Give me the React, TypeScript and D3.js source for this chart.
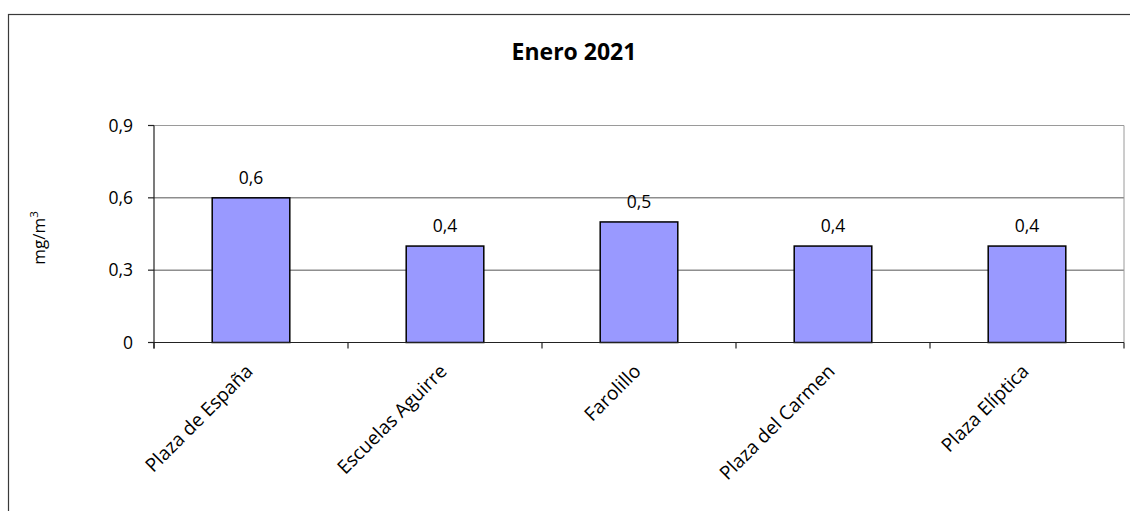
import * as d3 from "d3";

const stations = [
  "Plaza de España",
  "Escuelas Aguirre",
  "Farolillo",
  "Plaza del Carmen",
  "Plaza Elíptica",
];
const values = [0.6, 0.4, 0.5, 0.4, 0.4];
const yTicks = [0, 0.3, 0.6, 0.9];
const title = "Enero 2021";

const width = 1130;
const height = 511;
const margin = { top: 125.5, right: 6, bottom: 168.5, left: 154 };
const font = "'Open Sans', sans-serif";

const fmt = (v: number) => String(v).replace(".", ",");

export default function App() {
  const x = d3
    .scaleBand<string>()
    .domain(stations)
    .range([margin.left, width - margin.right])
    .paddingInner(0.6)
    .paddingOuter(0.3);

  const y = d3
    .scaleLinear()
    .domain([0, 0.9])
    .range([height - margin.bottom, margin.top]);

  const x0 = margin.left;
  const x1 = width - margin.right;
  const y0 = y(0);
  // tick marks sit between the categories
  const boundaries = d3.range(stations.length + 1).map((i) => x0 + i * ((x1 - x0) / stations.length));

  return (
    <svg
      width={width}
      height={height}
      style={{ position: "absolute", left: 0, top: 0, background: "#fff" }}
      fontFamily={font}
    >
      {/* outer chart frame (runs past the window on right/bottom) */}
      <rect x={8.5} y={14.5} width={1200} height={600} fill="none" stroke="#3a3a3a" strokeWidth={1.2} />

      <text x={574} y={60} textAnchor="middle" fontSize={23} fontWeight="bold" fill="#000">
        {title}
      </text>

      {/* grid */}
      {yTicks.map((t) => (
        <line
          key={t}
          x1={x0}
          x2={x1}
          y1={y(t)}
          y2={y(t)}
          stroke={t === 0.9 ? "#9a9a9a" : "#555"}
          strokeWidth={1}
        />
      ))}
      <line x1={x1} x2={x1} y1={y(0.9)} y2={y0} stroke="#9a9a9a" strokeWidth={1} />

      {/* bars */}
      {stations.map((s, i) => (
        <g key={s}>
          <rect
            x={x(s)!}
            y={y(values[i])}
            width={x.bandwidth()}
            height={y0 - y(values[i])}
            fill="#9999ff"
            stroke="#000"
            strokeWidth={1.5}
          />
          <text
            x={x(s)! + x.bandwidth() / 2}
            y={y(values[i]) - 14}
            textAnchor="middle"
            fontSize={17.5}
            fill="#000"
          >
            {fmt(values[i])}
          </text>
        </g>
      ))}

      {/* y axis */}
      <line x1={x0} x2={x0} y1={y(0.9)} y2={y0 + 6} stroke="#222" strokeWidth={1.2} />
      {yTicks.map((t) => (
        <g key={t}>
          <line x1={x0 - 6} x2={x0} y1={y(t)} y2={y(t)} stroke="#222" strokeWidth={1.2} />
          <text x={x0 - 21} y={y(t)} dy="0.36em" textAnchor="end" fontSize={17.5} fill="#000">
            {fmt(t)}
          </text>
        </g>
      ))}
      <text
        transform={`translate(45,${(y(0.9) + y0) / 2 + 4}) rotate(-90)`}
        textAnchor="middle"
        fontSize={17}
        fill="#000"
      >
        mg/m<tspan dy={-7} fontSize={11.5}>3</tspan>
      </text>

      {/* x axis */}
      <line x1={x0} x2={x1} y1={y0} y2={y0} stroke="#222" strokeWidth={1.2} />
      {boundaries.map((b, i) => (
        <line key={i} x1={b} x2={b} y1={y0} y2={y0 + 6} stroke="#222" strokeWidth={1.2} />
      ))}
      {stations.map((s) => (
        <text
          key={s}
          transform={`translate(${x(s)! + x.bandwidth() / 2 + 3},${y0 + 30}) rotate(-45)`}
          textAnchor="end"
          fontSize={19}
          fill="#000"
        >
          {s}
        </text>
      ))}
    </svg>
  );
}
